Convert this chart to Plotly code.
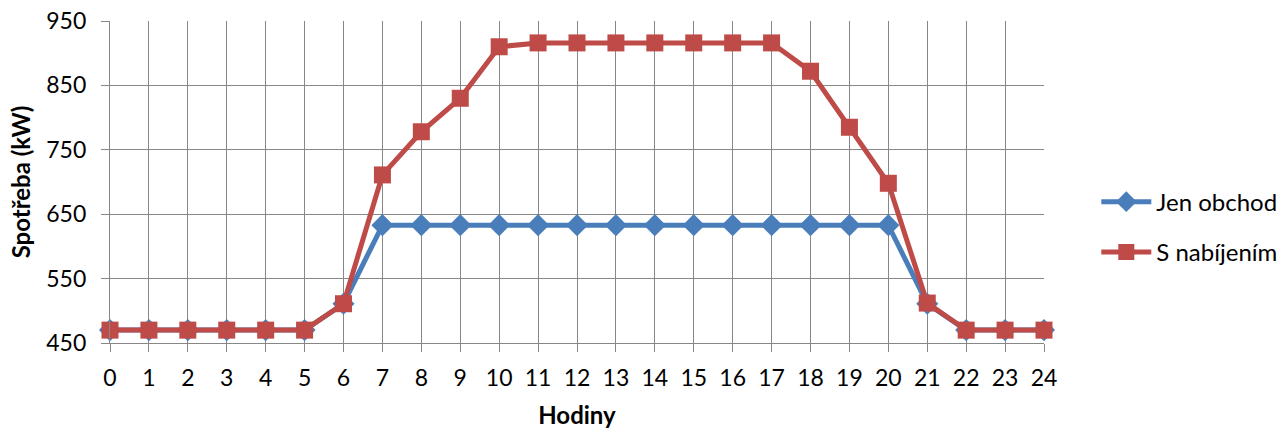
import plotly.graph_objects as go

hours = list(range(25))
jen_obchod = [470, 470, 470, 470, 470, 470, 511, 633, 633, 633, 633, 633, 633, 633,
              633, 633, 633, 633, 633, 633, 633, 511, 470, 470, 470]
s_nabijenim = [470, 470, 470, 470, 470, 470, 511, 711, 778, 830, 910, 916, 916, 916,
               916, 916, 916, 916, 872, 785, 698, 512, 470, 470, 470]
y_ticks = [450, 550, 650, 750, 850, 950]

FONT = "Lato"
GRID = "#878787"

fig = go.Figure()
fig.add_trace(go.Scatter(
    x=hours, y=jen_obchod, mode="lines+markers", name="Jen obchod",
    legendgroup="a",
    line=dict(color="#4A7EBB", width=5),
    marker=dict(symbol="diamond", size=17, color="#4A7EBB"),
    cliponaxis=False,
))
fig.add_trace(go.Scatter(
    x=hours, y=s_nabijenim, mode="lines+markers", name="S nabíjením",
    legendgroup="b",
    line=dict(color="#BE4B48", width=5),
    marker=dict(symbol="square", size=17, color="#BE4B48"),
    cliponaxis=False,
))

fig.update_layout(
    width=1286, height=429,
    margin=dict(l=110, r=242, t=21, b=86, autoexpand=False),
    paper_bgcolor="white", plot_bgcolor="white",
    font=dict(family=FONT, size=23, color="black"),
    showlegend=True,
    legend=dict(
        x=1.056, xanchor="left", y=0.36, yanchor="middle",
        font=dict(family=FONT, size=24, color="black"),
        tracegroupgap=16, itemwidth=50,
        bgcolor="rgba(0,0,0,0)",
    ),
)
fig.update_xaxes(
    range=[0, 24], tickmode="array", tickvals=hours, ticktext=[str(h) for h in hours],
    showgrid=True, gridcolor=GRID, gridwidth=1.3,
    showline=True, linecolor=GRID, linewidth=1.3,
    ticks="outside", ticklen=8, tickcolor=GRID, tickwidth=1.3,
    ticklabelstandoff=6, automargin=False, ticklabeloverflow="allow",
    zeroline=False,
    title=dict(text="<b>Hodiny</b>", font=dict(family=FONT, size=24), standoff=19),
)
fig.update_yaxes(
    range=[450, 950], tickmode="array", tickvals=y_ticks,
    ticktext=[str(v) for v in y_ticks],
    showgrid=True, gridcolor=GRID, gridwidth=1.3,
    showline=True, linecolor=GRID, linewidth=1.3, mirror=False,
    ticks="outside", ticklen=8, tickcolor=GRID, tickwidth=1.3,
    ticklabelstandoff=10, automargin=False, ticklabeloverflow="allow",
    zeroline=False,
    title=dict(text="<b>Spotřeba (kW)</b>", font=dict(family=FONT, size=24), standoff=8),
)

# remove the default 8px page margin so the figure fills the window exactly
fig.write_html("out.html", config={"displayModeBar": False},
               post_script="document.body.style.margin='0';")
